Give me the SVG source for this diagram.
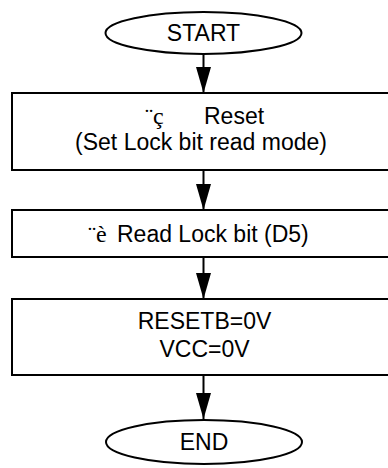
<svg xmlns="http://www.w3.org/2000/svg" width="388" height="468" viewBox="0 0 388 468">
<style>
.shape{fill:#fff;stroke:#000;stroke-width:2}
.t{font-family:"Liberation Sans",Arial,sans-serif;font-size:23px;fill:#000;text-anchor:middle}
.s{font-family:"Liberation Serif","Times New Roman",serif;font-size:24px;fill:#000}
.c{stroke:#000;stroke-width:2;fill:none}
</style>
<defs>
<marker id="ah" markerUnits="userSpaceOnUse" markerWidth="26" markerHeight="15" refX="26" refY="7.5" orient="auto" viewBox="0 0 26 15">
<path d="M0,0 L26,7.5 L0,15 Z" fill="#000"/>
</marker>
</defs>
<g id="connectors">
<line class="c" x1="203.5" y1="54" x2="203.5" y2="93" marker-end="url(#ah)"/>
<line class="c" x1="203.5" y1="170" x2="203.5" y2="210" marker-end="url(#ah)"/>
<line class="c" x1="203.5" y1="257" x2="203.5" y2="299" marker-end="url(#ah)"/>
<line class="c" x1="203.5" y1="375" x2="203.5" y2="419" marker-end="url(#ah)"/>
</g>
<g id="start">
<ellipse class="shape" cx="203.5" cy="33" rx="98" ry="21"/>
<text class="t" x="203.5" y="41">START</text>
</g>
<g id="reset">
<rect class="shape" x="12" y="93" width="382" height="77"/>
<text class="s" x="145" y="124">¨ç</text>
<text class="t" x="204" y="124" style="text-anchor:start">Reset</text>
<text class="t" x="201" y="150">(Set Lock bit read mode)</text>
</g>
<g id="read">
<rect class="shape" x="12" y="210" width="382" height="47"/>
<text x="88" y="241.5"><tspan class="s">¨è</tspan><tspan class="t" x="117" style="text-anchor:start">Read Lock bit (D5)</tspan></text>
</g>
<g id="power">
<rect class="shape" x="12" y="299" width="382" height="76"/>
<text class="t" x="204.5" y="329">RESETB=0V</text>
<text class="t" x="204.5" y="357">VCC=0V</text>
</g>
<g id="end">
<ellipse class="shape" cx="204" cy="442" rx="98" ry="22"/>
<text class="t" x="204" y="450">END</text>
</g>
</svg>
